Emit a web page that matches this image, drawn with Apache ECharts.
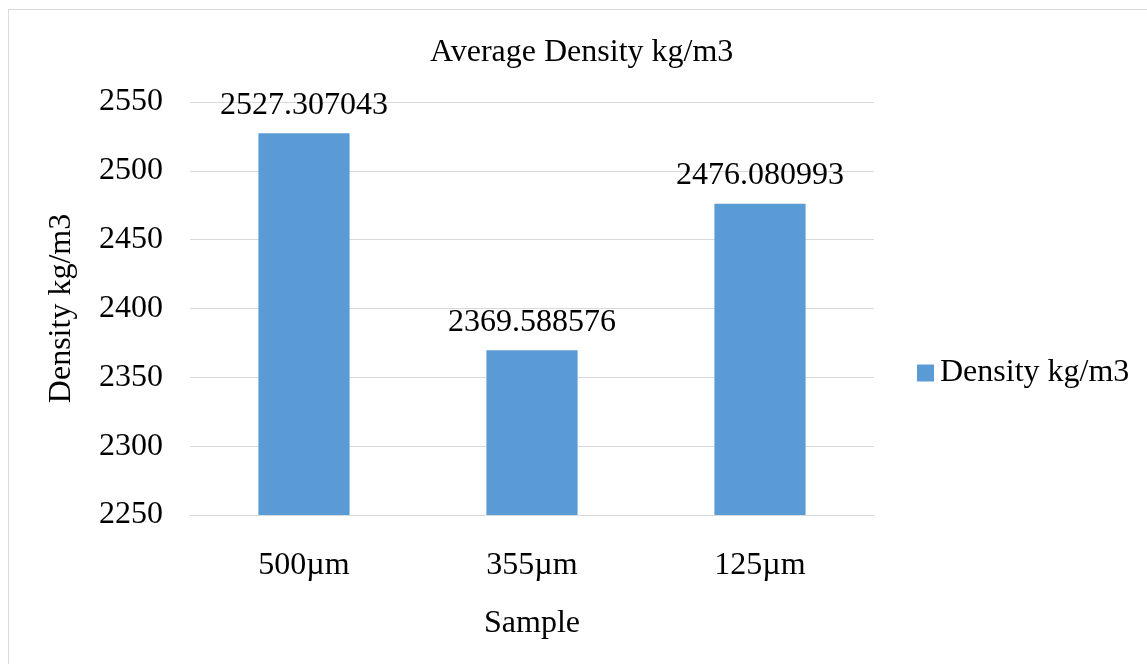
<!DOCTYPE html>
<html>
<head>
<meta charset="utf-8">
<script src="https://cdn.jsdelivr.net/npm/echarts@6/dist/echarts.min.js"></script>
<style>
html,body{margin:0;padding:0;background:#fff;overflow:hidden;}
#frame{position:absolute;left:8px;top:9px;width:1200px;height:700px;border:1px solid #d9d9d9;box-sizing:border-box;}
#chart{position:absolute;left:0;top:0;width:1147px;height:664px;}
</style>
</head>
<body>
<div id="frame"></div>
<div id="chart"></div>
<script>
var categories = ['500µm', '355µm', '125µm'];
var densityValues = [2527.307043, 2369.588576, 2476.080993];
var seriesName = 'Density kg/m3';
var titleText = 'Average Density kg/m3';
var xAxisName = 'Sample';
var yAxisName = 'Density kg/m3';
var yMin = 2250, yMax = 2550, yStep = 50;

var FONT = '"Liberation Serif", "Times New Roman", serif';
var FS = 32;
var chart = echarts.init(document.getElementById('chart'));
chart.setOption({
  backgroundColor: 'transparent',
  animation: false,
  title: {
    text: titleText,
    left: 425,
    top: 32,
    textStyle: {fontFamily: FONT, fontSize: FS, fontWeight: 'normal', color: '#000'}
  },
  legend: {
    data: [seriesName],
    left: 917,
    top: 357,
    padding: 0,
    icon: 'rect',
    itemWidth: 17,
    itemHeight: 17,
    textStyle: {fontFamily: FONT, fontSize: FS, color: '#000', padding: [0,0,0,1]}
  },
  grid: {left: 190, right: 273, top: 102, bottom: 149, containLabel: false},
  xAxis: {
    type: 'category',
    data: categories,
    name: xAxisName,
    nameLocation: 'middle',
    nameGap: 93,
    nameTextStyle: {fontFamily: FONT, fontSize: FS, color: '#000'},
    axisLine: {lineStyle: {color: '#d9d9d9', width: 1}},
    axisTick: {show: false},
    axisLabel: {fontFamily: FONT, fontSize: FS, color: '#000', margin: 35}
  },
  yAxis: {
    type: 'value',
    min: yMin, max: yMax, interval: yStep,
    name: yAxisName,
    nameLocation: 'middle',
    nameGap: 112,
    nameTextStyle: {fontFamily: FONT, fontSize: FS, color: '#000'},
    axisLine: {show: false},
    axisTick: {show: false},
    splitLine: {lineStyle: {color: '#d9d9d9', width: 1}},
    axisLabel: {fontFamily: FONT, fontSize: FS, color: '#000', margin: 27,
      formatter: function(v){ return String(v); }}
  },
  series: [{
    name: seriesName,
    type: 'bar',
    data: densityValues,
    barWidth: '40%',
    itemStyle: {color: '#5b9bd5'},
    label: {
      show: true,
      position: 'top',
      distance: 12,
      fontFamily: FONT, fontSize: FS, color: '#000',
      formatter: function(p){ return String(p.value); }
    }
  }]
});
</script>
</body>
</html>
